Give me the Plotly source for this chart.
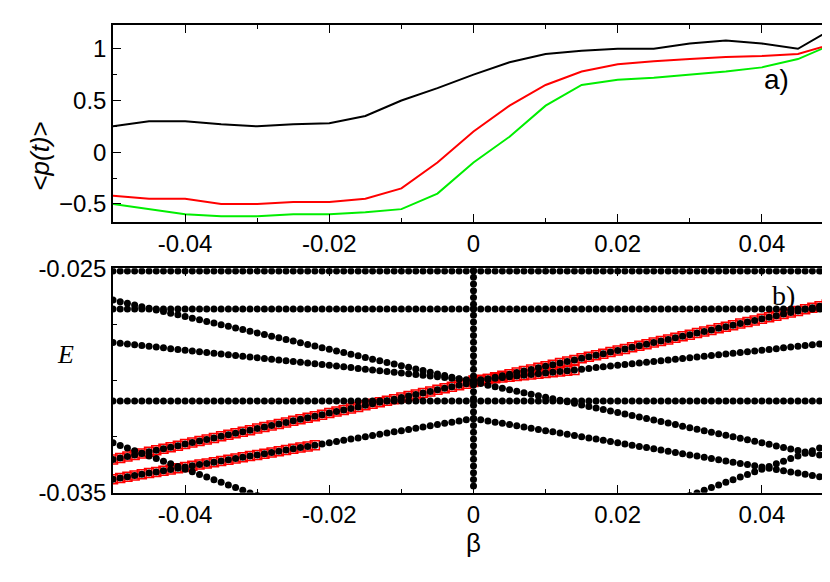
import numpy as np
import plotly.graph_objects as go
from plotly.subplots import make_subplots

# top panel: <p(t)> vs beta
beta_a = [-0.05, -0.045, -0.04, -0.035, -0.03, -0.025, -0.02, -0.015, -0.01, -0.005,
          0.0, 0.005, 0.01, 0.015, 0.02, 0.025, 0.03, 0.035, 0.04, 0.045, 0.05]
p_black = [0.25, 0.3, 0.3, 0.27, 0.25, 0.27, 0.28, 0.35, 0.5, 0.62,
           0.75, 0.87, 0.95, 0.98, 1.0, 1.0, 1.05, 1.08, 1.05, 1.0, 1.2]
p_red = [-0.42, -0.45, -0.45, -0.5, -0.5, -0.48, -0.48, -0.45, -0.35, -0.1,
         0.2, 0.45, 0.65, 0.78, 0.85, 0.88, 0.9, 0.92, 0.93, 0.95, 1.05]
p_green = [-0.5, -0.55, -0.6, -0.62, -0.62, -0.6, -0.6, -0.58, -0.55, -0.4,
           -0.1, 0.15, 0.45, 0.65, 0.7, 0.72, 0.75, 0.78, 0.82, 0.9, 1.05]

# bottom panel: energy branches, values at beta = -0.05, 0, 0.05
branch_beta = [-0.05, 0.0, 0.05]
branches = [
    [-0.02513, -0.02513, -0.02513],
    [-0.02682, -0.02682, -0.02682],
    [-0.03091, -0.03091, -0.03091],
    [-0.02642, -0.03007, -0.03345],
    [-0.02831, -0.03000, -0.02831],
    [-0.03439, -0.03169, -0.03439],
    [-0.03277, -0.03864, -0.03277],
]
red_upper = [-0.03352, -0.03007, -0.02655]
red_lower = [-0.03439, -0.03169, -0.03439]
red_lower_span = [-0.05, -0.0215]
red_mid = [-0.02831, -0.03000, -0.02831]
red_mid_span = [0.0, 0.0143]
# dots along beta = 0
e_vertical = [-0.0251, -0.0254, -0.0257, -0.0260, -0.0263, -0.0266, -0.0268, -0.0271,
              -0.0274, -0.0277, -0.0280, -0.0283, -0.0286, -0.0289, -0.0292, -0.0295,
              -0.0298, -0.0300, -0.0302, -0.0305, -0.0308, -0.0311, -0.0314, -0.0317,
              -0.0320, -0.0323, -0.0326, -0.0329, -0.0332, -0.0335, -0.0338, -0.0341,
              -0.0344, -0.0347]

beta_grid = np.arange(-0.05, 0.0501, 0.001)

fig = make_subplots(rows=2, cols=1, vertical_spacing=0.09, row_heights=[0.47, 0.53])
fig.update_layout(width=830, height=582, margin=dict(l=105, r=4, t=2, b=90),
                  plot_bgcolor="white", paper_bgcolor="white", showlegend=False,
                  font=dict(family="Liberation Sans", size=24, color="black"))
fig.update_yaxes(domain=[0.585, 0.998], row=1, col=1)
fig.update_yaxes(domain=[0.015, 0.487], row=2, col=1)

for ys, c in [(p_green, "#00ee00"), (p_red, "red"), (p_black, "black")]:
    fig.add_trace(go.Scatter(x=beta_a, y=ys, mode="lines", line=dict(color=c, width=2)), row=1, col=1)

def seg(vals, lo, hi):
    b = beta_grid[(beta_grid >= lo - 1e-9) & (beta_grid <= hi + 1e-9)]
    return b, np.interp(b, branch_beta, vals)

sq = dict(symbol="square-open", size=9, color="red", line=dict(width=1.5))
for vals, lo, hi in [(red_upper, -0.05, 0.05), (red_lower, *red_lower_span), (red_mid, *red_mid_span)]:
    bx, by = seg(vals, lo, hi)
    fig.add_trace(go.Scatter(x=bx, y=by, mode="markers", marker=sq), row=2, col=1)

dot = dict(symbol="circle", size=7, color="black")
for vals in branches + [red_upper]:
    bx, by = seg(vals, -0.05, 0.05)
    fig.add_trace(go.Scatter(x=bx, y=by, mode="markers", marker=dot), row=2, col=1)
fig.add_trace(go.Scatter(x=[0.0] * len(e_vertical), y=e_vertical, mode="markers", marker=dot), row=2, col=1)

ax = dict(showgrid=False, zeroline=False, showline=True, linecolor="black", linewidth=1.5,
          mirror="allticks", ticks="inside", ticklen=8, tickcolor="black",
          tickfont=dict(size=24))
fig.update_xaxes(ax, range=[-0.05, 0.05], tickvals=[-0.04, -0.02, 0, 0.02, 0.04],
                 ticktext=["-0.04", "-0.02", "0", "0.02", "0.04"],
                 minor=dict(dtick=0.01, ticks="inside", ticklen=4, tickcolor="black"))
fig.update_yaxes(ax, range=[-0.67, 1.23], tickvals=[-0.5, 0, 0.5, 1],
                 minor=dict(dtick=0.25, ticks="inside", ticklen=4, tickcolor="black"), row=1, col=1)
fig.update_yaxes(ax, range=[-0.035, -0.025], tickvals=[-0.035, -0.025],
                 ticktext=["-0.035", "-0.025"],
                 minor=dict(dtick=0.0025, ticks="inside", ticklen=4, tickcolor="black"), row=2, col=1)
fig.update_xaxes(title=dict(text="β", font=dict(size=26), standoff=2), row=2, col=1)

fig.add_annotation(text="a)", xref="x", yref="y", x=0.042, y=0.7, showarrow=False, font=dict(size=28))
fig.add_annotation(text="b)", xref="x2", yref="y2", x=0.043, y=-0.0262, showarrow=False,
                   font=dict(size=28, family="Liberation Serif"))
fig.add_annotation(text="<<i>p(t)</i>>", xref="paper", yref="paper", x=-0.125, y=0.8,
                   textangle=-90, showarrow=False, font=dict(size=26))
fig.add_annotation(text="<i>E</i>", xref="paper", yref="paper", x=-0.08, y=0.27,
                   showarrow=False, font=dict(size=26, family="Liberation Serif"))

fig.write_html("out.html")
